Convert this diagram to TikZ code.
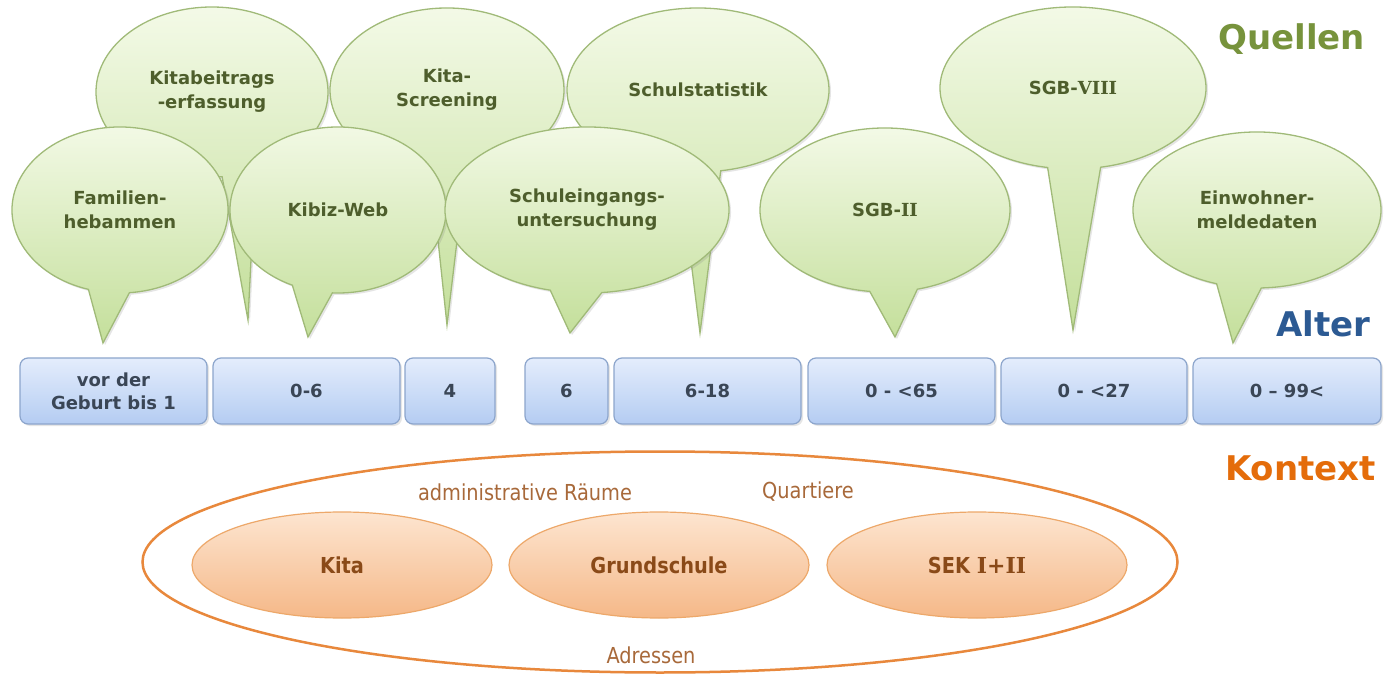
\documentclass[tikz,border=0pt]{standalone}
\usepackage{fontspec}
\setmainfont{DejaVu Sans}
\newfontfamily\numfont{DejaVu Serif}
\newfontfamily\ctxfont[FakeStretch=0.88]{DejaVu Sans}
\usetikzlibrary{shapes.geometric,shadows}
\definecolor{blasegruen}{HTML}{C4DF9B}
\definecolor{blasehell}{HTML}{F4FAE8}
\definecolor{blaserand}{HTML}{A0BA78}
\definecolor{blasetext}{HTML}{4E5E2C}
\definecolor{alterhell}{HTML}{E4EDFC}
\definecolor{alterblau}{HTML}{B4CCF2}
\definecolor{alterrand}{HTML}{8CA5CC}
\definecolor{altertext}{HTML}{3A4656}
\definecolor{ortshell}{HTML}{FDE5D0}
\definecolor{ortsorange}{HTML}{F5B888}
\definecolor{ortsrand}{HTML}{EDA86A}
\definecolor{ortstext}{HTML}{8A4A18}
\definecolor{raumtext}{HTML}{A8693A}
\definecolor{kontextrand}{HTML}{E8883C}
\definecolor{quellengruen}{HTML}{77933C}
\definecolor{alterdunkel}{HTML}{2C5A93}
\definecolor{kontextorange}{HTML}{E46C0A}
\tikzstyle{bubble}=[draw=blaserand,line width=1.3pt,top color=blasehell,bottom color=blasegruen,drop shadow={shadow xshift=2pt,shadow yshift=-2pt,opacity=.2}]
\tikzstyle{bubbletext}=[text=blasetext,font=\fontsize{18}{24}\selectfont\bfseries,align=center,inner sep=0]
\tikzstyle{agebox}=[rectangle,rounded corners=8pt,draw=alterrand,line width=1.2pt,top color=alterhell,bottom color=alterblau,minimum height=66pt,text=altertext,font=\fontsize{18}{23}\selectfont\bfseries,align=center,drop shadow={shadow xshift=2pt,shadow yshift=-2pt,opacity=.2}]
\tikzstyle{place}=[ellipse,draw=ortsrand,line width=1.2pt,top color=ortshell,bottom color=ortsorange,minimum width=300pt,minimum height=106pt,text=ortstext,font=\ctxfont\fontsize{22}{26}\selectfont\bfseries]
\tikzstyle{raum}=[text=raumtext,font=\ctxfont\fontsize{22}{26}\selectfont,inner sep=0]
\tikzstyle{headline}=[font=\fontsize{34}{40}\selectfont\bfseries,anchor=base west,inner sep=0]
\begin{document}
\begin{tikzpicture}[x=1pt,y=-1pt]
\path[fill=white] (0,0) rectangle (1387,676);
\useasboundingbox (0,0) rectangle (1387,676);

% Quellen: back row first, then front row
\foreach \nm/\cx/\cy/\rx/\ry/\anga/\angb/\tx/\ty/\txt in {
	kitabei/212/92/116/85/85/428/248/320/{Kitabeitrags\\-erfassung},
	kitascr/447/90/117/82/98/441/447/325/{Kita-\\Screening},
	schulst/698/90/131/82/98/440/700/333/{Schulstatistik},
	sgbacht/1073/88/133/81/101/438/1073/330/{SGB-{\numfont VIII}},
	famheb/120/210/108/83/107/445/103/343/{Familien-\\hebammen},
	kibiz/338/210/108/83/115/453/308/337/{Kibiz-Web},
	schulein/587/210/142/83/105/444/570/333/{Schuleingangs-\\untersuchung},
	sgbzwei/885/210/125/82/97/435/895/337/{SGB-{\numfont II}},
	einwohn/1257/210/124/78/109/448/1233/343/{Einwohner-\\meldedaten}}{
	\path[bubble] (\cx,\cy) ++({\anga}:{\rx} and {\ry})
		arc[start angle=\anga,end angle=\angb,x radius=\rx,y radius=\ry] -- (\tx,\ty) -- cycle;
	\node[bubbletext] (\nm) at (\cx,\cy) {\txt};
	}

% Alter
\foreach \nm/\cx/\w/\txt in {geburt/113.5/187/{vor der\\Geburt bis 1},nullsechs/306.5/187/{0-6},
	vier/450/90/4,sechs/566.5/83/6,sechsacht/707.5/187/{6-18},nullfuenf/901.5/187/{0 - <65},
	nullzwei/1094/186/{0 - <27},nullneun/1287/188/{0 – 99<}}{
	\node[agebox,minimum width=\w pt] (\nm) at (\cx,391) {\txt};}

% Kontext
\node[ellipse,draw=kontextrand,line width=2.5pt,minimum width=1035pt,minimum height=221pt] (adressraum) at (660,562) {};
\node[place] (kita) at (342,565) {Kita};
\node[place] (grundschule) at (659,565) {Grundschule};
\node[place] (sek) at (977,565) {SEK {\numfont I+II}};
\node[raum] (admin) at (525,492) {administrative Räume};
\node[raum] (quartiere) at (808,492) {Quartiere};
\node[raum] (adressen) at (651,655) {Adressen};

\node[headline,text=quellengruen] (quellen) at (1218,50) {Quellen};
\node[headline,text=alterdunkel] (alter) at (1276,337) {Alter};
\node[headline,text=kontextorange] (kontext) at (1225,480) {Kontext};
\end{tikzpicture}
\end{document}
